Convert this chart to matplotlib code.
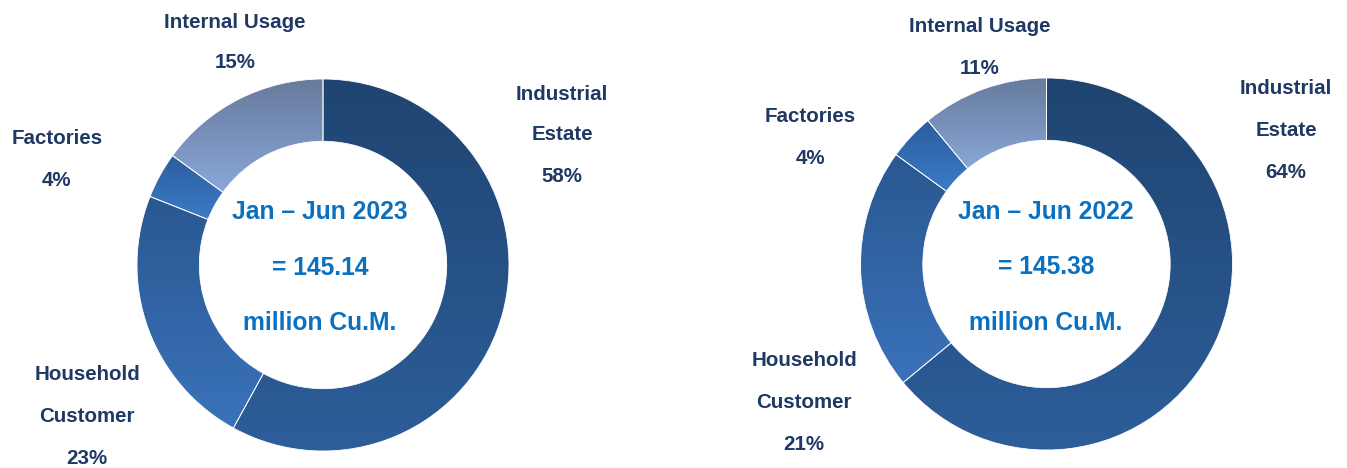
import numpy as np
import matplotlib.pyplot as plt
from matplotlib.colors import LinearSegmentedColormap

plt.rcParams['font.family'] = ['Liberation Sans', 'DejaVu Sans']

categories = ['Industrial Estate', 'Household Customer', 'Factories', 'Internal Usage']
share_2023 = [58, 23, 4, 15]
share_2022 = [64, 21, 4, 11]
totals = ['145.14', '145.38']
periods = ['Jan \u2013 Jun 2023', 'Jan \u2013 Jun 2022']

# top / bottom colour of each wedge's vertical gradient
grad = [('#1f4470', '#2d5e9a'),
        ('#2a5891', '#3a72ba'),
        ('#2c5d9c', '#3b7bc8'),
        ('#667b9c', '#8aa7d8')]

W, H = 1347, 468
R = 186.0
label_col = '#1f3864'
centre_col = '#0a70c0'
LS = 14.8   # label size
CS = 17.7   # centre text size

fig = plt.figure(figsize=(W / 100, H / 100), dpi=100)


def donut(ax, values, cx, cy, x0, x1):
    ax.set_aspect('equal')
    ax.axis('off')
    wedges, _ = ax.pie(values, startangle=90, counterclock=False,
                       wedgeprops=dict(width=0.335, edgecolor='white', linewidth=0.6))
    for w, (c0, c1) in zip(wedges, grad):
        w.set_facecolor('none')
        bb = w.get_path().get_extents(w.get_patch_transform())
        cm = LinearSegmentedColormap.from_list('g', [c1, c0])
        g = np.linspace(0, 1, 256).reshape(-1, 1)
        im = ax.imshow(g, cmap=cm, origin='lower', aspect='auto',
                       extent=(bb.x0, bb.x1, bb.y0, bb.y1), zorder=1)
        im.set_clip_path(w)
        w.set_zorder(2)
    ax.set_xlim(-(cx - x0) / R, (x1 - cx) / R)
    ax.set_ylim(-(H - cy) / R, cy / R)


ax1 = fig.add_axes([0, 0, 673 / W, 1])
donut(ax1, share_2023, 323, 265, 0, 673)
ax2 = fig.add_axes([673 / W, 0, 674 / W, 1])
donut(ax2, share_2022, 1046.5, 264, 673, 1347)


def put(x, y, s, color=label_col, size=LS):
    fig.text(x / W, 1 - y / H, s, ha='center', va='center', color=color,
             fontsize=size, fontweight='bold')


# left chart labels
put(235, 22, 'Internal Usage'); put(235, 63, f'{share_2023[3]}%')
put(57, 138, 'Factories'); put(57, 180, f'{share_2023[2]}%')
put(562, 94, 'Industrial'); put(562, 135, 'Estate'); put(562, 177, f'{share_2023[0]}%')
put(87, 375, 'Household'); put(87, 416, 'Customer'); put(87, 458, f'{share_2023[1]}%')
put(320, 212, periods[0], centre_col, CS)
put(320, 268, '= ' + totals[0], centre_col, CS)
put(320, 323, 'million Cu.M.', centre_col, CS)

# right chart labels
put(980, 27, 'Internal Usage'); put(980, 68, f'{share_2022[3]}%')
put(810, 117, 'Factories'); put(810, 159, f'{share_2022[2]}%')
put(1286, 88, 'Industrial'); put(1286, 130, 'Estate'); put(1286, 172, f'{share_2022[0]}%')
put(804, 360, 'Household'); put(804, 402, 'Customer'); put(804, 444, f'{share_2022[1]}%')
put(1046, 212, periods[1], centre_col, CS)
put(1046, 267, '= ' + totals[1], centre_col, CS)
put(1046, 323, 'million Cu.M.', centre_col, CS)

fig.savefig('out.png', dpi=100)
